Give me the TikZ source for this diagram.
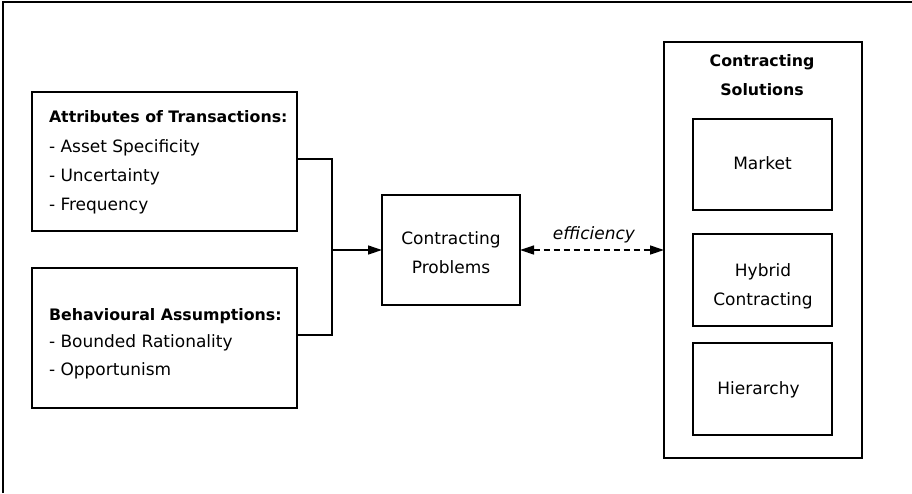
\documentclass[tikz,border=0pt]{standalone}
\usepackage{fontspec}
\setmainfont{DejaVu Sans}
\usetikzlibrary{arrows.meta}
\tikzset{
  box/.style={draw, line width=1.5pt, inner sep=0, outer sep=0},
  txt/.style={font=\fontsize{17}{20}\selectfont, inner sep=0, outer sep=0},
  ttl/.style={font=\fontsize{15.8}{19}\selectfont\bfseries, inner sep=0, outer sep=0},
  conn/.style={line width=1.3pt},
  tip/.style={-{Triangle[length=14pt,width=9pt]}},
  dtips/.style={{Triangle[length=14pt,width=9pt]}-{Triangle[length=14pt,width=9pt]}},
}
\begin{document}
\begin{tikzpicture}[x=1pt,y=-1pt]
\useasboundingbox (0,0) rectangle (912,493);
% outer frame (left and top edges)
\coordinate (F1) at (2.5,493);
\coordinate (F2) at (2.5,1.5);
\coordinate (F3) at (912,1.5);
\draw[line width=2pt] (F1) -- (F2) -- (F3);

% left boxes
\node[box, minimum width=265, minimum height=139] (A) at (164.5,161.5) {};
\node[ttl, anchor=base west] (A1) at (49,122) {Attributes of Transactions:};
\node[txt, anchor=base west] (A2) at (49,152) {- Asset Specificity};
\node[txt, anchor=base west] (A3) at (49,181) {- Uncertainty};
\node[txt, anchor=base west] (A4) at (49,210) {- Frequency};

\node[box, minimum width=265, minimum height=140] (B) at (164.5,338) {};
\node[ttl, anchor=base west] (B1) at (49,320) {Behavioural Assumptions:};
\node[txt, anchor=base west] (B2) at (49,347) {- Bounded Rationality};
\node[txt, anchor=base west] (B3) at (49,375) {- Opportunism};

% contracting problems
\node[box, minimum width=138, minimum height=110] (CP) at (451,250) {};
\node[txt, anchor=base] (CP1) at (451,244.5) {Contracting};
\node[txt, anchor=base] (CP2) at (451,273) {Problems};

% solutions
\node[box, minimum width=198, minimum height=416] (S) at (763,250) {};
\node[ttl, anchor=base] (S1) at (762,66) {Contracting};
\node[ttl, anchor=base] (S2) at (762,95) {Solutions};
\node[box, minimum width=139, minimum height=91] (M) at (762.5,164.5) {};
\node[txt, anchor=base] (M1) at (762.5,169) {Market};
\node[box, minimum width=139, minimum height=92] (H) at (762.5,280) {};
\node[txt, anchor=base] (H1) at (763,276) {Hybrid};
\node[txt, anchor=base] (H2) at (763,305) {Contracting};
\node[box, minimum width=139, minimum height=92] (Hi) at (762.5,389) {};
\node[txt, anchor=base] (Hi1) at (758.5,394) {Hierarchy};

% connectors
\coordinate (J) at (332,250);
\draw[conn] ([yshift=2.5pt]A.east) -| (J);
\draw[conn] ([yshift=3pt]B.east) -| (J);
\draw[conn, tip] (J) -- (CP.west);
\draw[conn, dash pattern=on 6pt off 4pt, dtips] (CP.east) -- (S.west);
\node[txt, anchor=base] (E) at (594,239.5) {\textit{efficiency}};
\end{tikzpicture}
\end{document}
